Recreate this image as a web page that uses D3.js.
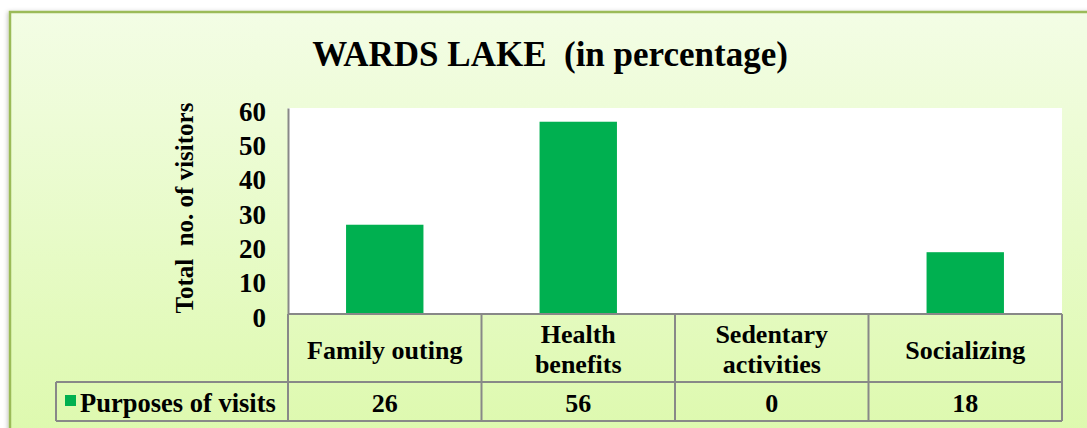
<!DOCTYPE html>
<html>
<head>
<meta charset="utf-8">
<style>
  body { margin: 0; background: #fff; }
  svg { font-family: "Liberation Serif", "Times New Roman", serif; font-weight: bold; }
  svg text { white-space: pre; }
</style>
</head>
<body>
<script src="https://d3js.org/d3.v7.min.js"></script>
<div id="chart"></div>
<script>
var categories = ["Family outing", "Health benefits", "Sedentary activities", "Socializing"];
var categoryLines = [["Family outing"], ["Health", "benefits"], ["Sedentary", "activities"], ["Socializing"]];
var values = [26, 56, 0, 18];
var seriesName = "Purposes of visits";
var yTicks = [0, 10, 20, 30, 40, 50, 60];
var title = "WARDS LAKE  (in percentage)";
var yTitle = "Total  no. of visitors";

var W = 1087, H = 428;
var plot = {left: 288, right: 1062, top: 108, bottom: 314};
var rowSplit = 382, tableBottom = 421, legendLeft = 56;

var svg = d3.select("#chart").append("svg")
    .attr("width", W).attr("height", H);

var defs = svg.append("defs");
var grad = defs.append("linearGradient").attr("id", "bg")
    .attr("x1", 0).attr("y1", 0).attr("x2", 0).attr("y2", 1);
grad.append("stop").attr("offset", "0%").attr("stop-color", "#f3fde5");
grad.append("stop").attr("offset", "100%").attr("stop-color", "#dcf9ab");
var sh = defs.append("filter").attr("id", "shadow").attr("x", "-5%").attr("y", "-5%").attr("width", "110%").attr("height", "110%");
sh.append("feDropShadow").attr("dx", -1).attr("dy", 1).attr("stdDeviation", 2).attr("flood-color", "#000").attr("flood-opacity", 0.25);

// chart frame
svg.append("rect")
    .attr("x", 10).attr("y", 12).attr("width", W + 20).attr("height", H + 20)
    .attr("fill", "url(#bg)").attr("stroke", "#9bbb59").attr("stroke-width", 2.5)
    .attr("filter", "url(#shadow)");

svg.append("text")
    .attr("x", 550).attr("y", 66)
    .attr("text-anchor", "middle")
    .attr("font-size", 35)
    .text(title);

var x = d3.scaleBand().domain(categories).range([plot.left, plot.right]).padding(0);
var y = d3.scaleLinear().domain([0, 60]).range([plot.bottom, plot.top]);

svg.append("rect")
    .attr("x", plot.left).attr("y", plot.top)
    .attr("width", plot.right - plot.left).attr("height", plot.bottom - plot.top)
    .attr("fill", "#fff");

svg.selectAll("rect.bar")
    .data(values)
    .enter().append("rect")
    .attr("class", "bar")
    .attr("x", function(d, i) { return x(categories[i]) + x.bandwidth() * 0.3; })
    .attr("width", x.bandwidth() * 0.4)
    .attr("y", function(d) { return y(d); })
    .attr("height", function(d) { return y(0) - y(d); })
    .attr("fill", "#00b050");

// y axis
var yAxis = svg.append("g")
    .attr("transform", "translate(" + plot.left + ",0)")
    .call(d3.axisLeft(y).tickValues(yTicks).tickSize(0).tickPadding(22));
yAxis.select(".domain").attr("stroke", "#888").attr("stroke-width", 2);
yAxis.selectAll("text")
    .attr("font-family", "Liberation Serif, Times New Roman, serif")
    .attr("font-weight", "bold")
    .attr("font-size", 27)
    .attr("fill", "#000")
    .attr("dy", "0.45em");
svg.append("line")
    .attr("x1", plot.left).attr("x2", plot.left)
    .attr("y1", plot.bottom).attr("y2", tableBottom)
    .attr("stroke", "#888").attr("stroke-width", 2);

svg.append("text")
    .attr("transform", "translate(193,208) rotate(-90)")
    .attr("text-anchor", "middle")
    .attr("font-size", 25)
    .text(yTitle);

// data table
var grid = svg.append("g").attr("stroke", "#888").attr("stroke-width", 2).attr("fill", "none");
grid.append("line").attr("x1", plot.left).attr("x2", plot.right).attr("y1", plot.bottom).attr("y2", plot.bottom);
grid.append("line").attr("x1", legendLeft).attr("x2", plot.right).attr("y1", rowSplit).attr("y2", rowSplit);
grid.append("line").attr("x1", legendLeft).attr("x2", plot.right).attr("y1", tableBottom).attr("y2", tableBottom);
grid.append("line").attr("x1", legendLeft).attr("x2", legendLeft).attr("y1", rowSplit).attr("y2", tableBottom);
grid.selectAll("line.col")
    .data(categories)
    .enter().append("line")
    .attr("class", "col")
    .attr("x1", function(d) { return x(d) + x.bandwidth(); })
    .attr("x2", function(d) { return x(d) + x.bandwidth(); })
    .attr("y1", plot.bottom).attr("y2", tableBottom);

var catText = svg.selectAll("text.cat")
    .data(categories)
    .enter().append("text")
    .attr("class", "cat")
    .attr("text-anchor", "middle")
    .attr("font-size", 26)
    .attr("x", function(d) { return x(d) + x.bandwidth() / 2; })
    .attr("y", function(d, i) { return categoryLines[i].length > 1 ? 343 : 359; });
catText.each(function(d, i) {
  var t = d3.select(this);
  categoryLines[i].forEach(function(line, j) {
    t.append("tspan")
      .attr("x", x(d) + x.bandwidth() / 2)
      .attr("dy", j === 0 ? 0 : 30)
      .text(line);
  });
});

svg.selectAll("text.val")
    .data(values)
    .enter().append("text")
    .attr("class", "val")
    .attr("text-anchor", "middle")
    .attr("font-size", 26)
    .attr("x", function(d, i) { return x(categories[i]) + x.bandwidth() / 2; })
    .attr("y", 412)
    .text(function(d) { return d; });

svg.append("rect")
    .attr("x", 65).attr("y", 395).attr("width", 11).attr("height", 11)
    .attr("fill", "#00b050");
svg.append("text")
    .attr("x", 80).attr("y", 412)
    .attr("font-size", 26.5)
    .text(seriesName);
</script>
</body>
</html>
